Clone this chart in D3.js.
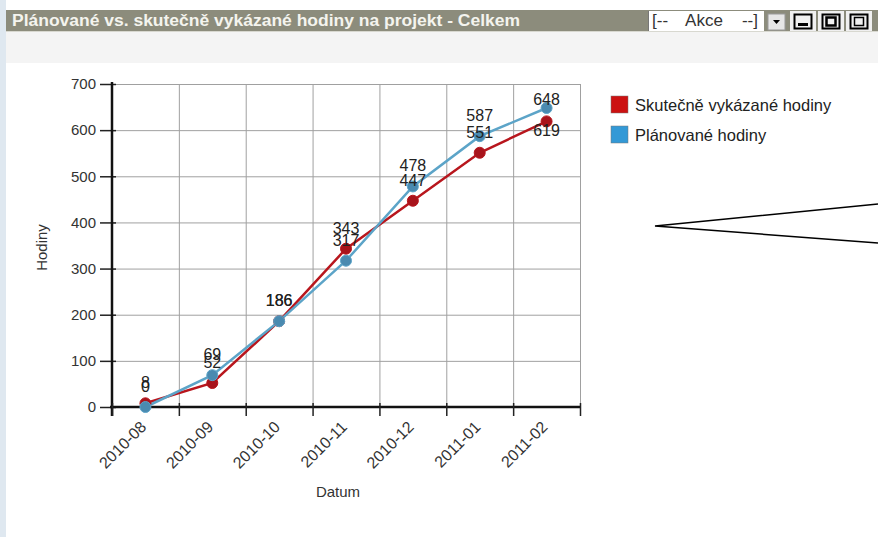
<!DOCTYPE html>
<html>
<head>
<meta charset="utf-8">
<script src="https://cdn.jsdelivr.net/npm/d3@7"></script>
<style>
  body { margin: 0; background: #fff; }
  svg { display: block; font-family: "Liberation Sans", Arial, sans-serif; }
</style>
</head>
<body>
<div id="main"></div>
<script>
'use strict';

// data
var months = ['2010-08', '2010-09', '2010-10', '2010-11', '2010-12', '2011-01', '2011-02'];
var actualHours = [8, 52, 186, 343, 447, 551, 619];
var plannedHours = [0, 69, 186, 317, 478, 587, 648];
var yTicks = [0, 100, 200, 300, 400, 500, 600, 700];
var seriesNames = ['Skutečně vykázané hodiny', 'Plánované hodiny'];
var titleText = 'Plánované vs. skutečně vykázané hodiny na projekt - Celkem';

var width = 878;
var height = 537;
var red = '#b8161d';
var blue = '#5ca4c8';

var svg = d3.select('#main').append('svg')
	.attr('width', width)
	.attr('height', height);

// page background bits
svg.append('rect').attr('x', 0).attr('y', 0).attr('width', width).attr('height', height).style('fill', '#fff');
svg.append('rect').attr('x', 0).attr('y', 31).attr('width', width).attr('height', 32).style('fill', '#f4f4f4');
svg.append('rect').attr('x', 0).attr('y', 0).attr('width', 6).attr('height', height).style('fill', '#dfe8f0');

// title bar
var bar = svg.append('g');
bar.append('rect').attr('x', 6).attr('y', 10).attr('width', width - 6).attr('height', 21).style('fill', '#8c8c7c');
bar.append('line').attr('x1', 6).attr('x2', width).attr('y1', 31.5).attr('y2', 31.5).style('stroke', '#d8d8d0');
bar.append('text')
	.attr('x', 12).attr('y', 26)
	.attr('textLength', 508)
	.attr('lengthAdjust', 'spacingAndGlyphs')
	.text(titleText)
	.style('font-size', '16px')
	.style('font-weight', 'bold')
	.style('fill', '#f4f4ee');

// "akce" select and window buttons
bar.append('rect').attr('x', 648).attr('y', 11).attr('width', 116).attr('height', 20).style('fill', '#fff');
bar.append('line').attr('x1', 648.5).attr('x2', 648.5).attr('y1', 11).attr('y2', 31).style('stroke', '#777');
var akce = bar.append('g').style('font-size', '17px').style('fill', '#333');
akce.append('text').attr('x', 652).attr('y', 26).text('[--');
akce.append('text').attr('x', 704).attr('y', 26).attr('text-anchor', 'middle').text('Akce');
akce.append('text').attr('x', 758).attr('y', 26).attr('text-anchor', 'end').text('--]');
bar.append('rect').attr('x', 768).attr('y', 14).attr('width', 17).attr('height', 16).style('fill', '#e6e6e6').style('stroke', '#999');
bar.append('path').attr('d', 'M773,20 L780,20 L776.5,24 Z').style('fill', '#000');
var btnX = [790, 818, 846];
btnX.forEach(function (bx, i) {
	bar.append('rect').attr('x', bx).attr('y', 11).attr('width', 26).attr('height', 20).style('fill', '#f0f0f0');
	bar.append('rect').attr('x', bx + 4.5).attr('y', 14.5).attr('width', 17).attr('height', 14).style('fill', 'none').style('stroke', '#000').style('stroke-width', 2);
	if (i === 0) {
		bar.append('rect').attr('x', bx + 8).attr('y', 23).attr('width', 10).attr('height', 3).style('fill', '#000');
	} else {
		bar.append('rect').attr('x', bx + 8.5).attr('y', 17.5).attr('width', 9).attr('height', 8)
			.style('fill', 'none').style('stroke', '#000').style('stroke-width', i === 1 ? 2.5 : 1.5);
	}
});

// plot
var plotLeft = 112, plotRight = 580, plotTop = 84, plotBottom = 407;

var x = d3.scaleBand()
	.domain(months)
	.range([plotLeft, plotRight])
	.padding(0);

var y = d3.scaleLinear()
	.domain([0, 700])
	.range([plotBottom, plotTop]);

var grid = svg.append('g');
grid.selectAll('line.h').data(yTicks).enter().append('line')
	.attr('x1', plotLeft).attr('x2', plotRight)
	.attr('y1', function (d) { return y(d) + 0.5; })
	.attr('y2', function (d) { return y(d) + 0.5; })
	.style('stroke', '#a0a0a0');
var bounds = months.map(function (m) { return x(m); }).concat([plotRight]);
grid.selectAll('line.v').data(bounds).enter().append('line')
	.attr('x1', function (d) { return d + 0.5; })
	.attr('x2', function (d) { return d + 0.5; })
	.attr('y1', plotTop).attr('y2', plotBottom)
	.style('stroke', '#a0a0a0');

// y axis
var yAxis = svg.append('g')
	.attr('transform', 'translate(' + plotLeft + ',0)')
	.call(d3.axisLeft(y).tickValues(yTicks).tickSize(12).tickPadding(4));
yAxis.select('.domain').remove();
yAxis.append('line').attr('x1', 0).attr('x2', 0).attr('y1', plotTop - 2).attr('y2', plotBottom + 9)
	.style('stroke', '#111').style('stroke-width', 2.5);
yAxis.selectAll('.tick line').attr('x2', -12).attr('x1', 4).style('stroke', '#222').style('stroke-width', 1.5);
yAxis.selectAll('.tick text').style('font-size', '15px').style('fill', '#333').style('font-family', '"Liberation Sans", Arial, sans-serif');

// x axis, ticks on band edges
var xAxis = svg.append('g').attr('transform', 'translate(0,' + plotBottom + ')');
xAxis.append('line').attr('x1', plotLeft - 2).attr('x2', plotRight).attr('y1', 0).attr('y2', 0)
	.style('stroke', '#111').style('stroke-width', 2.5);
xAxis.selectAll('line.tk').data(bounds).enter().append('line')
	.attr('x1', function (d) { return d + 0.5; })
	.attr('x2', function (d) { return d + 0.5; })
	.attr('y1', -4).attr('y2', 9)
	.style('stroke', '#222').style('stroke-width', 1.5);
xAxis.selectAll('text').data(months).enter().append('text')
	.attr('transform', function (d) {
		return 'translate(' + (x(d) + x.bandwidth() / 2 - 6) + ',13) rotate(-45)';
	})
	.attr('text-anchor', 'end')
	.attr('dy', '0.7em')
	.text(function (d) { return d; })
	.style('font-size', '16px')
	.style('fill', '#333');

// axis titles
svg.append('text')
	.attr('transform', 'translate(47,' + ((plotTop + plotBottom) / 2 + 2) + ') rotate(-90)')
	.attr('text-anchor', 'middle')
	.text('Hodiny')
	.style('font-size', '15px').style('fill', '#333');
svg.append('text')
	.attr('x', 338).attr('y', 497)
	.attr('text-anchor', 'middle')
	.text('Datum')
	.style('font-size', '15px').style('fill', '#333');

// lines + points
var cx = function (d, i) { return x(months[i]) + x.bandwidth() / 2; };
var line = d3.line()
	.x(cx)
	.y(function (d) { return y(d); });

var series = [
	{ name: seriesNames[0], values: actualHours, color: red, dot: '#a8141c' },
	{ name: seriesNames[1], values: plannedHours, color: blue, dot: '#4a8ab0' }
];

series.forEach(function (s) {
	svg.append('path').datum(s.values)
		.attr('d', line)
		.style('fill', 'none')
		.style('stroke', s.color)
		.style('stroke-width', 2.5);
});
series.forEach(function (s) {
	svg.selectAll(null).data(s.values).enter().append('circle')
		.attr('cx', cx)
		.attr('cy', function (d) { return y(d); })
		.attr('r', 5.5)
		.style('fill', s.dot)
		.style('stroke', s.color)
		.style('stroke-width', 1);
});

// value labels: above the point, kept inside the plot; a label that would
// sit on top of a clamped one goes under its point
var labelMin = plotTop + 21;
months.forEach(function (m, i) {
	var placed = [];
	series.slice().reverse().forEach(function (s) {
		var v = s.values[i];
		var py = y(v);
		var by = py - 15;
		var clamped = false;
		if (by < labelMin) { by = labelMin; clamped = true; }
		placed.forEach(function (p) {
			if (p.clamped && Math.abs(p.by - by) < 12) { by = py + 15; }
		});
		placed.push({ by: by, clamped: clamped });
		svg.append('text')
			.attr('x', cx(v, i))
			.attr('y', by)
			.attr('text-anchor', 'middle')
			.text(v)
			.style('font-size', '16px')
			.style('fill', '#222');
	});
});

// legend
var legend = svg.append('g').attr('transform', 'translate(611,96)');
series.forEach(function (s, i) {
	var g = legend.append('g').attr('transform', 'translate(0,' + (i * 30) + ')');
	g.append('rect').attr('width', 17).attr('height', 17)
		.style('fill', i === 0 ? '#cc1111' : '#3399d6')
		.style('stroke', '#777').style('stroke-width', 0.5);
	g.append('text').attr('x', 24).attr('y', 15).text(s.name)
		.style('font-size', '16.5px').style('fill', '#222');
});

// callout arrow
svg.append('path')
	.attr('d', 'M878,204 L655,226 L878,243')
	.style('fill', 'none')
	.style('stroke', '#000')
	.style('stroke-width', 1.5);
</script>
</body>
</html>
